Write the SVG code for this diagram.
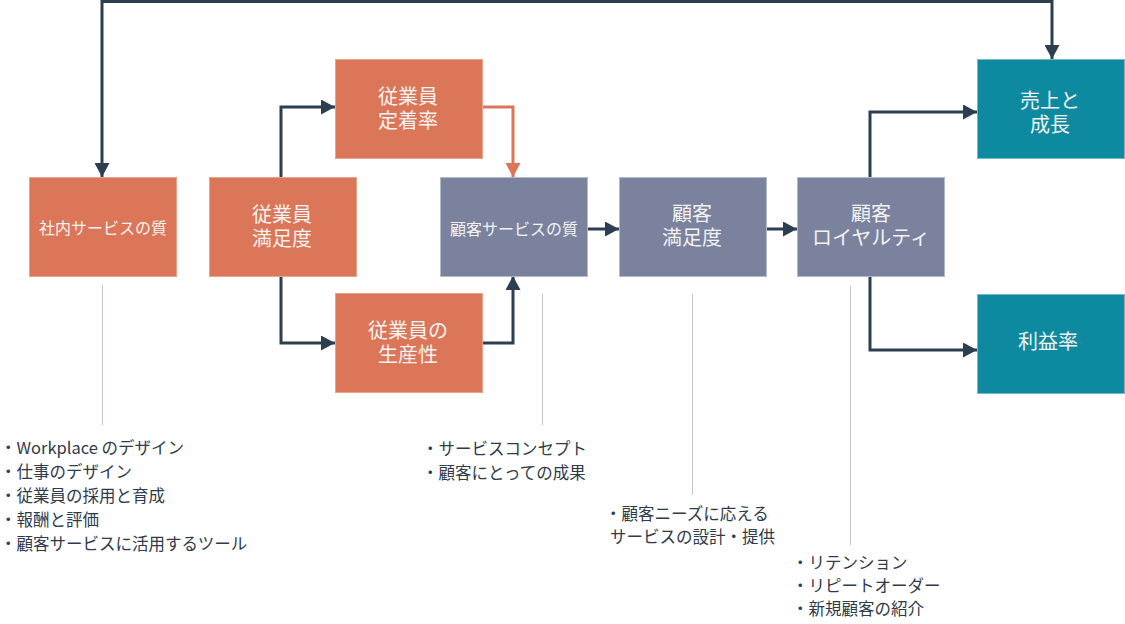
<svg xmlns="http://www.w3.org/2000/svg" width="1125" height="624" viewBox="0 0 1125 624">
<style>
.o{fill:#DC7658;stroke:#E9A28C;stroke-width:1}
.s{fill:#7A829E;stroke:#B5BACB;stroke-width:1}
.t{fill:#0D8A9F;stroke:#6FBCC8;stroke-width:1}
.nt{font-family:"Noto Sans CJK JP","Noto Sans",sans-serif;fill:#F2F2F2;text-anchor:middle}
.c{fill:none;stroke:#2C3E50;stroke-width:3}
.co{fill:none;stroke:#DC7658;stroke-width:3}
.g{stroke:#C4C7CF;stroke-width:1}
.l{font-family:"Noto Sans CJK JP","Noto Sans",sans-serif;font-size:16.5px;fill:#2F3A4A}
</style>
<defs>
<marker id="ad" markerUnits="userSpaceOnUse" markerWidth="15" markerHeight="15" refX="14" refY="7.5" orient="auto"><path d="M0,0 L14,7.5 L0,15 z" fill="#2C3E50"/></marker>
<marker id="ao" markerUnits="userSpaceOnUse" markerWidth="15" markerHeight="15" refX="14" refY="7.5" orient="auto"><path d="M0,0 L14,7.5 L0,15 z" fill="#DC7658"/></marker>
</defs>
<g id="connectors">
<path class="c" d="M600,1.5 L102,1.5 L102,177" marker-end="url(#ad)"/>
<path class="c" d="M600,1.5 L1052,1.5 L1052,59" marker-end="url(#ad)"/>
<path class="c" d="M281,177 L281,107 L335,107" marker-end="url(#ad)"/>
<path class="c" d="M281,276 L281,343 L335,343" marker-end="url(#ad)"/>
<path class="co" d="M482,107 L513,107 L513,177" marker-end="url(#ao)"/>
<path class="c" d="M482,343 L513,343 L513,276" marker-end="url(#ad)"/>
<path class="c" d="M587,229 L619,229" marker-end="url(#ad)"/>
<path class="c" d="M766,229 L797,229" marker-end="url(#ad)"/>
<path class="c" d="M870,177 L870,112 L977,112" marker-end="url(#ad)"/>
<path class="c" d="M870,276 L870,350 L977,350" marker-end="url(#ad)"/>
<line class="g" x1="102.5" y1="285" x2="102.5" y2="425"/>
<line class="g" x1="542.5" y1="294" x2="542.5" y2="425"/>
<line class="g" x1="692.5" y1="294" x2="692.5" y2="495"/>
<line class="g" x1="850.5" y1="286" x2="850.5" y2="545"/>
</g>
<g id="n1"><rect class="o" x="29.5" y="177.5" width="147" height="99"/><text class="nt" x="103" y="234" font-size="16">社内サービスの質</text></g>
<g id="n2"><rect class="o" x="209.5" y="177.5" width="147" height="99"/><text class="nt" font-size="20"><tspan x="282" y="222">従業員</tspan><tspan x="282" y="246">満足度</tspan></text></g>
<g id="n3"><rect class="o" x="335.5" y="59.5" width="147" height="99"/><text class="nt" font-size="20"><tspan x="408" y="104">従業員</tspan><tspan x="408" y="128">定着率</tspan></text></g>
<g id="n4"><rect class="o" x="335.5" y="293.5" width="147" height="99"/><text class="nt" font-size="20"><tspan x="408" y="338">従業員の</tspan><tspan x="408" y="362">生産性</tspan></text></g>
<g id="n5"><rect class="s" x="440.5" y="177.5" width="147" height="99"/><text class="nt" x="514" y="235" font-size="16">顧客サービスの質</text></g>
<g id="n6"><rect class="s" x="619.5" y="177.5" width="147" height="99"/><text class="nt" font-size="20"><tspan x="692" y="221">顧客</tspan><tspan x="692" y="245">満足度</tspan></text></g>
<g id="n7"><rect class="s" x="797.5" y="177.5" width="147" height="99"/><text class="nt" font-size="20"><tspan x="871" y="221">顧客</tspan><tspan x="871" y="245">ロイヤルティ</tspan></text></g>
<g id="n8"><rect class="t" x="977.5" y="59.5" width="147" height="99"/><text class="nt" font-size="20"><tspan x="1050" y="108">売上と</tspan><tspan x="1050" y="132">成長</tspan></text></g>
<g id="n9"><rect class="t" x="977.5" y="294.5" width="147" height="99"/><text class="nt" x="1048" y="349" font-size="20">利益率</text></g>
<g id="list1">
<text class="l" x="0" y="454">・Workplace のデザイン</text>
<text class="l" x="0" y="478">・仕事のデザイン</text>
<text class="l" x="0" y="502">・従業員の採用と育成</text>
<text class="l" x="0" y="526">・報酬と評価</text>
<text class="l" x="0" y="550">・顧客サービスに活用するツール</text>
</g>
<g id="list2">
<text class="l" x="422" y="455">・サービスコンセプト</text>
<text class="l" x="422" y="479">・顧客にとっての成果</text>
</g>
<g id="list3">
<text class="l" x="605" y="520">・顧客ニーズに応える</text>
<text class="l" x="610" y="543">サービスの設計・提供</text>
</g>
<g id="list4">
<text class="l" x="792" y="569">・リテンション</text>
<text class="l" x="792" y="592">・リピートオーダー</text>
<text class="l" x="792" y="615">・新規顧客の紹介</text>
</g>
</svg>
